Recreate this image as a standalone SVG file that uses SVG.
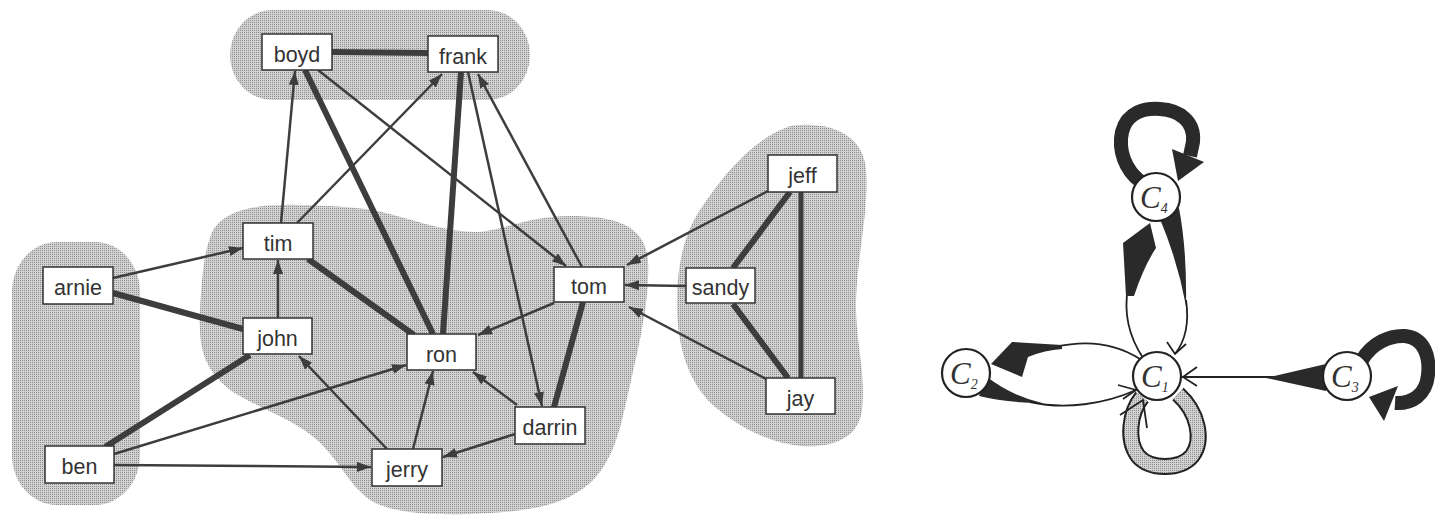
<svg xmlns="http://www.w3.org/2000/svg" width="1435" height="516" viewBox="0 0 1435 516">
  <style>
    .blob { fill: url(#stip); }
    .node rect { fill: #fff; stroke: #333; stroke-width: 1.5; }
    .node text { font-family: "Liberation Sans", Arial, sans-serif; font-size: 21.5px; fill: #333; text-anchor: middle; }
    .e { stroke: #3d3d3d; stroke-width: 2.5; fill: none; }
    .arr { marker-end: url(#ah); }
    .thick { stroke-width: 6; }
    .cn circle { fill: #fff; stroke: #222; stroke-width: 2.2; }
    .cn text { font-family: "Liberation Serif", "Times New Roman", serif; font-style: italic; font-size: 31px; fill: #333; }
    .cn tspan { font-size: 14px; }
    .thin { stroke: #222; stroke-width: 1.8; fill: none; }
    .heavy { stroke: #2a2a2a; stroke-width: 14; fill: none; }
    .wedge { fill: #2a2a2a; stroke: none; }
  </style>
  <defs>
    <pattern id="stip" width="2" height="2" patternUnits="userSpaceOnUse">
      <rect width="2" height="2" fill="#d2d2d2"/>
      <rect width="1" height="1" fill="#8e8e8e"/>
    </pattern>
    <marker id="ah" markerUnits="userSpaceOnUse" markerWidth="16" markerHeight="12" refX="14" refY="5" orient="auto">
      <path d="M0,0 L14,5 L0,10 Z" fill="#3d3d3d"/>
    </marker>
  </defs>

  <!-- cluster shading, left network -->
  <g id="clusters">
    <rect class="blob" x="230" y="10" width="300" height="90" rx="42" ry="45"/>
    <rect class="blob" x="12" y="242" width="128" height="263" rx="45" ry="50"/>
    <path class="blob" d="M212,232 C225,208 260,204 300,205 C330,206 360,206 390,214 C420,222 450,233 480,232 C510,228 530,216 570,216 C615,216 645,225 648,260 C650,300 640,340 630,385 C620,430 615,455 595,478 C570,505 530,512 470,514 C420,515 390,512 370,500 C350,485 345,470 325,448 C300,420 260,410 230,390 C205,370 198,350 200,310 C202,270 205,250 212,232 Z"/>
    <path class="blob" d="M790,126 C830,120 864,135 866,170 C869,210 858,250 856,300 C855,340 866,370 862,410 C858,440 830,448 800,446 C770,443 740,428 715,407 C690,385 678,350 677,310 C676,270 683,235 700,210 C720,180 750,140 790,126 Z"/>
  </g>

  <!-- connectors, left network -->
  <g id="connectors">
    <line class="e thick" x1="332" y1="52" x2="428" y2="53"/>
    <line class="e arr" x1="281" y1="223" x2="295" y2="71"/>
    <line class="e arr" x1="297" y1="223" x2="442" y2="74"/>
    <line class="e thick" x1="305" y1="70" x2="433" y2="334"/>
    <line class="e arr" x1="318" y1="70" x2="566" y2="266"/>
    <line class="e thick" x1="461" y1="72" x2="443" y2="334"/>
    <line class="e arr" x1="468" y1="72" x2="542" y2="406"/>
    <line class="e arr" x1="582" y1="267" x2="478" y2="74"/>
    <line class="e arr" x1="113" y1="278" x2="243" y2="248"/>
    <line class="e thick" x1="113" y1="293" x2="243" y2="329"/>
    <line class="e arr" x1="278" y1="318" x2="278" y2="260"/>
    <line class="e thick" x1="308" y1="259" x2="414" y2="335"/>
    <line class="e thick" x1="105" y1="447" x2="250" y2="355"/>
    <line class="e arr" x1="114" y1="454" x2="406" y2="365"/>
    <line class="e arr" x1="114" y1="465" x2="371" y2="467"/>
    <line class="e arr" x1="387" y1="449" x2="299" y2="356"/>
    <line class="e arr" x1="413" y1="449" x2="433" y2="371"/>
    <line class="e arr" x1="517" y1="405" x2="473" y2="372"/>
    <line class="e arr" x1="515" y1="434" x2="443" y2="457"/>
    <line class="e arr" x1="554" y1="303" x2="478" y2="335"/>
    <line class="e thick" x1="583" y1="302" x2="554" y2="407"/>
    <line class="e arr" x1="768" y1="191" x2="627" y2="265"/>
    <line class="e arr" x1="686" y1="286" x2="625" y2="285"/>
    <line class="e arr" x1="768" y1="380" x2="629" y2="307"/>
    <line class="e thick" x1="790" y1="192" x2="733" y2="268"/>
    <line class="e thick" x1="733" y1="304" x2="788" y2="378"/>
    <line class="e" style="stroke-width:5" x1="801" y1="192" x2="801" y2="378"/>
  </g>

  <!-- nodes, left network -->
  <g id="boyd" class="node"><rect x="262" y="34" width="70" height="36"/><text x="297" y="62">boyd</text></g>
  <g id="frank" class="node"><rect x="428" y="36" width="70" height="36"/><text x="463" y="64">frank</text></g>
  <g id="tim" class="node"><rect x="243" y="223" width="70" height="36"/><text x="278" y="251">tim</text></g>
  <g id="arnie" class="node"><rect x="43" y="267" width="70" height="37"/><text x="78" y="295">arnie</text></g>
  <g id="john" class="node"><rect x="243" y="318" width="69" height="36"/><text x="277.5" y="346">john</text></g>
  <g id="ben" class="node"><rect x="45" y="446" width="69" height="37"/><text x="79.5" y="474">ben</text></g>
  <g id="jerry" class="node"><rect x="372" y="449" width="70" height="37"/><text x="407" y="477">jerry</text></g>
  <g id="ron" class="node"><rect x="407" y="334" width="69" height="36"/><text x="441.5" y="362">ron</text></g>
  <g id="darrin" class="node"><rect x="515" y="407" width="70" height="37"/><text x="550" y="435">darrin</text></g>
  <g id="tom" class="node"><rect x="554" y="267" width="70" height="35"/><text x="589" y="294">tom</text></g>
  <g id="jeff" class="node"><rect x="768" y="155" width="69" height="37"/><text x="802.5" y="183">jeff</text></g>
  <g id="sandy" class="node"><rect x="686" y="268" width="69" height="35"/><text x="720.5" y="295">sandy</text></g>
  <g id="jay" class="node"><rect x="766" y="378" width="69" height="36"/><text x="800.5" y="406">jay</text></g>

  <!-- connectors, cluster graph -->
  <g id="cluster-connectors">
    <!-- C4 self loop -->
    <path class="heavy" d="M1141,182 C1125,170 1118,150 1122,132 C1127,112 1145,108 1160,109 C1180,110 1195,122 1193,142 L1190,156"/>
    <polygon class="wedge" points="1172,149 1204,162 1178,181"/>
    <!-- C1 to C4 -->
    <path class="thin" d="M1143,358 C1128,335 1124,310 1128,288"/>
    <path class="wedge" d="M1126,296 L1123,243 L1150,223 L1156,248 Q1144,266 1134,296 Z"/>
    <!-- C4 to C1 -->
    <path class="wedge" d="M1160,219 L1179,208 Q1187,250 1186,306 Q1178,262 1160,219 Z"/>
    <path class="thin" d="M1186,300 C1189,320 1186,340 1175,354"/>
    <polyline class="thin" points="1167,342 1175,354 1186,344"/>
    <!-- C1 to C2 -->
    <path class="thin" d="M1140,359 C1115,343 1085,340 1055,347"/>
    <path class="wedge" d="M1062,345 L1012,342 L991,364 L1022,377 L1028,357 Q1045,350 1062,349 Z"/>
    <!-- C2 to C1 -->
    <path class="wedge" d="M987,377 Q1012,396 1042,403 Q1008,403 979,396 Z"/>
    <path class="thin" d="M1030,402 C1065,410 1105,404 1136,390"/>
    <polyline class="thin" points="1118,385 1136,390 1123,399"/>
    <!-- C3 to C1 -->
    <line class="thin" x1="1182" y1="377" x2="1330" y2="377"/>
    <polygon class="wedge" points="1266,378 1326,364 1326,391"/>
    <polyline class="thin" points="1197,367 1183,377 1197,386"/>
    <!-- C3 self loop -->
    <path class="heavy" d="M1362,360 C1372,343 1390,335 1405,336 C1425,338 1430,358 1428,375 C1426,395 1412,404 1395,403"/>
    <polygon class="wedge" points="1398,386 1369,397 1384,421"/>
    <!-- C1 self loop -->
    <path d="M1142,397 C1130,412 1126,440 1138,456 C1150,470 1180,470 1192,456 C1204,440 1198,412 1178,394" stroke="#222" stroke-width="17" fill="none"/>
    <path d="M1142,397 C1130,412 1126,440 1138,456 C1150,470 1180,470 1192,456 C1204,440 1198,412 1178,394" stroke="url(#stip)" stroke-width="13" fill="none"/>
    <polyline class="thin" points="1120,415 1143,400 1147,428"/>
  </g>

  <!-- nodes, cluster graph -->
  <g id="C1" class="cn"><circle cx="1157" cy="376" r="24"/><text x="1141" y="387">C<tspan dy="5">1</tspan></text></g>
  <g id="C2" class="cn"><circle cx="966" cy="373" r="24"/><text x="950" y="384">C<tspan dy="5">2</tspan></text></g>
  <g id="C3" class="cn"><circle cx="1347" cy="376" r="24"/><text x="1331" y="387">C<tspan dy="5">3</tspan></text></g>
  <g id="C4" class="cn"><circle cx="1156" cy="197" r="24"/><text x="1140" y="208">C<tspan dy="5">4</tspan></text></g>
</svg>
